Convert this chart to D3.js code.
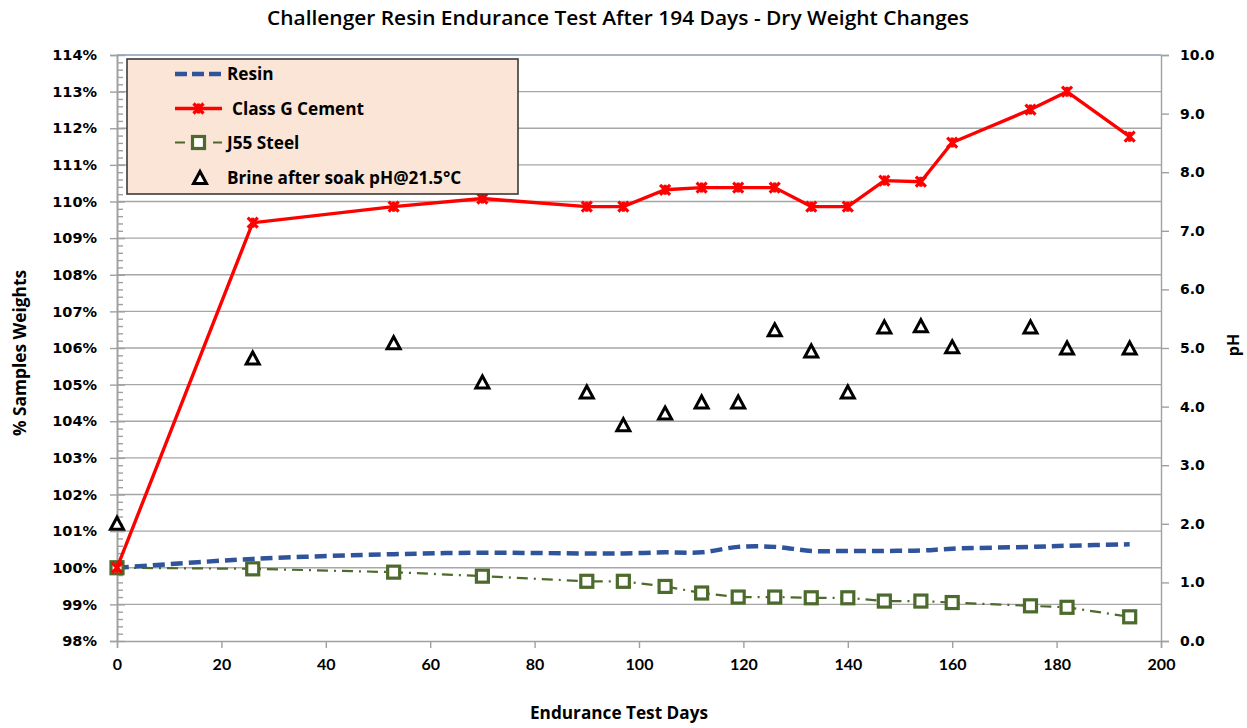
<!DOCTYPE html>
<html>
<head>
<meta charset="utf-8">
<script src="https://cdn.jsdelivr.net/npm/d3@7"></script>
<style>
  html,body{margin:0;padding:0;background:#fff;}
  svg{display:block;}
</style>
</head>
<body>
<svg id="chart" width="1247" height="728"></svg>
<script>
// ---------------- DATA ----------------
const days = [0,26,53,70,90,97,105,112,119,126,133,140,147,154,160,175,182,194];
const resin = [100.00,100.24,100.37,100.41,100.39,100.39,100.42,100.42,100.57,100.57,100.46,100.46,100.46,100.47,100.52,100.57,100.60,100.64];
const cement = [100.00,109.42,109.86,110.08,109.86,109.86,110.32,110.38,110.38,110.38,109.86,109.86,110.57,110.54,111.61,112.51,113.00,111.77];
const steel = [100.00,99.97,99.88,99.77,99.63,99.63,99.49,99.31,99.20,99.20,99.18,99.18,99.09,99.09,99.05,98.96,98.92,98.66];
const brinePH = [2.01,4.83,5.09,4.42,4.25,3.69,3.89,4.08,4.08,5.31,4.95,4.25,5.36,5.38,5.02,5.36,5.00,5.00];

const xTicks = [0,20,40,60,80,100,120,140,160,180,200];
const leftTicks = [98,99,100,101,102,103,104,105,106,107,108,109,110,111,112,113,114];
const rightTicks = [0,1,2,3,4,5,6,7,8,9,10];
const seriesNames = ["Resin","Class G Cement","J55 Steel","Brine after soak pH@21.5°C"];
const titleText = "Challenger Resin Endurance Test After 194 Days - Dry Weight Changes";
const xTitle = "Endurance Test Days";
const yLeftTitle = "% Samples Weights";
const yRightTitle = "pH";

// ---------------- LAYOUT ----------------
const svg = d3.select("#chart");
const plot = {left:117, right:1161, top:55, bottom:641};
const x = d3.scaleLinear().domain([0,200]).range([plot.left, plot.right]);
const yL = d3.scaleLinear().domain([98,114]).range([plot.bottom, plot.top]);
const yR = d3.scaleLinear().domain([0,10]).range([plot.bottom, plot.top]);

const colResin = "#2f549b", colCement = "#ff0000", colSteel = "#4b6a2b", gridCol = "#a6a6a6", axisCol = "#a0a0a0";
const tickFont = "'DejaVu Sans', Verdana, sans-serif";
const narrowFont = "'Liberation Sans Narrow', 'Lato', sans-serif";
const textFont = "'Open Sans', 'Noto Sans', sans-serif";

// gridlines
svg.append("g").selectAll("line").data(leftTicks.filter(d=>d>98)).join("line")
  .attr("x1", plot.left).attr("x2", plot.right)
  .attr("y1", d=>yL(d)).attr("y2", d=>yL(d))
  .attr("stroke", d=> d===114 ? "#8a9bb3" : gridCol).attr("stroke-width", 1.4);

// left axis (outer major ticks + labels)
const gL = svg.append("g").attr("transform",`translate(${plot.left},0)`)
  .call(d3.axisLeft(yL).tickValues(leftTicks).tickFormat(d=>d+"%").tickSize(7).tickPadding(13));
// inner major ticks
svg.append("g").attr("transform",`translate(${plot.left},0)`)
  .call(d3.axisRight(yL).tickValues(leftTicks).tickFormat("").tickSize(8).tickSizeOuter(0));
// minor ticks
svg.append("g").attr("class","minor").attr("transform",`translate(${plot.left},0)`)
  .call(d3.axisRight(yL).tickValues(d3.range(98,114,0.2).filter(v=>Math.abs(v-Math.round(v))>0.01)).tickFormat("").tickSize(6).tickSizeOuter(0));

// right axis
const gR = svg.append("g").attr("transform",`translate(${plot.right},0)`)
  .call(d3.axisRight(yR).tickValues(rightTicks).tickFormat(d3.format(".1f")).tickSize(8).tickPadding(11));

// x axis
const gX = svg.append("g").attr("transform",`translate(0,${plot.bottom})`)
  .call(d3.axisBottom(x).tickValues(xTicks).tickFormat(d3.format("d")).tickSize(7).tickPadding(11));

svg.selectAll(".domain, .tick line").attr("stroke", axisCol).attr("stroke-width", 1.4);
svg.selectAll(".tick text").attr("fill","#000").attr("font-weight","bold");
gL.selectAll(".tick text").attr("font-family", tickFont).attr("font-size", 14.5);
gR.selectAll(".tick text").attr("font-family", tickFont).attr("font-size", 14);
gX.selectAll(".tick text").attr("font-family", narrowFont).attr("font-size", 16);

// ---------------- SERIES ----------------
const pts = (vals)=> days.map((d,i)=>[d, vals[i]]);

// steel line (dash-dot)
svg.append("path").datum(pts(steel))
  .attr("d", d3.line().x(d=>x(d[0])).y(d=>yL(d[1])))
  .attr("fill","none").attr("stroke", colSteel).attr("stroke-width", 2.2)
  .attr("stroke-dasharray","11,6,2,6");
// resin smooth dashed
svg.append("path").datum(pts(resin))
  .attr("d", d3.line().curve(d3.curveCatmullRom.alpha(0.5)).x(d=>x(d[0])).y(d=>yL(d[1])))
  .attr("fill","none").attr("stroke", colResin).attr("stroke-width", 4.5)
  .attr("stroke-dasharray","12,6");
// steel markers
svg.append("g").selectAll("rect").data(pts(steel)).join("rect")
  .attr("x", d=>x(d[0])-6).attr("y", d=>yL(d[1])-6).attr("width",12).attr("height",12)
  .attr("fill","#fff").attr("stroke", colSteel).attr("stroke-width",3.2);
// cement line
svg.append("path").datum(pts(cement))
  .attr("d", d3.line().x(d=>x(d[0])).y(d=>yL(d[1])))
  .attr("fill","none").attr("stroke", colCement).attr("stroke-width", 3.4);
function starMarker(g, cx, cy, s, col){
  g.append("path").attr("d",`M${cx-s},${cy-s}L${cx+s},${cy+s}M${cx-s},${cy+s}L${cx+s},${cy-s}M${cx},${cy-s}L${cx},${cy+s}`)
   .attr("stroke", col).attr("stroke-width", 3.2).attr("fill","none");
}
const gC = svg.append("g");
pts(cement).forEach(d=> starMarker(gC, x(d[0]), yL(d[1]), 5, colCement));

// brine triangles
function triPath(cx, cy){
  const w = 6.5, h = 6;
  return `M${cx},${cy-h}L${cx+w},${cy+h}L${cx-w},${cy+h}Z`;
}
svg.append("g").selectAll("path").data(days.map((d,i)=>[d, brinePH[i]])).join("path")
  .attr("d", d=>triPath(x(d[0]), yR(d[1])))
  .attr("fill","#fff").attr("stroke","#000").attr("stroke-width",3).attr("stroke-linejoin","miter");

// ---------------- LEGEND ----------------
const lg = svg.append("g");
lg.append("rect").attr("x",127).attr("y",59).attr("width",391).attr("height",135)
  .attr("fill","#fbe5d6").attr("stroke","#3a3a3a").attr("stroke-width",1.6);
const rowsY = [74,108.5,142.5,177.5];
lg.append("line").attr("x1",175).attr("x2",222).attr("y1",rowsY[0]).attr("y2",rowsY[0])
  .attr("stroke",colResin).attr("stroke-width",4.5).attr("stroke-dasharray","12,5");
lg.append("line").attr("x1",175).attr("x2",222).attr("y1",rowsY[1]).attr("y2",rowsY[1])
  .attr("stroke",colCement).attr("stroke-width",3.4);
starMarker(lg, 198.5, rowsY[1], 5, colCement);
lg.append("line").attr("x1",175).attr("x2",222).attr("y1",rowsY[2]).attr("y2",rowsY[2])
  .attr("stroke",colSteel).attr("stroke-width",2.2).attr("stroke-dasharray","10,28,10");
lg.append("rect").attr("x",198.5-6).attr("y",rowsY[2]-6).attr("width",12).attr("height",12)
  .attr("fill","#fff").attr("stroke",colSteel).attr("stroke-width",3.2);
lg.append("path").attr("d", triPath(200, rowsY[3])).attr("fill","#fff").attr("stroke","#000").attr("stroke-width",3);

const legX = [227,232,227,227];
const legTexts = lg.selectAll("text.leg").data(seriesNames).join("text").attr("class","leg")
  .attr("x",(d,i)=>legX[i]).attr("y",(d,i)=>rowsY[i]).attr("dy","0.35em")
  .attr("font-family", textFont).attr("font-weight", 700).attr("font-size", 15).attr("fill","#000")
  .text(d=>d);
{
  const w = legTexts.filter((d,i)=>i===1).node().getComputedTextLength();
  legTexts.attr("font-size", 15*132/w);
}

// ---------------- TITLES ----------------
function fitText(sel, target){
  sel.attr("textLength", target).attr("lengthAdjust","spacingAndGlyphs");
}
const t = svg.append("text").attr("x",(266+970)/2).attr("y",18).attr("dy","0.35em")
  .attr("text-anchor","middle").attr("font-family", textFont).attr("font-weight",600)
  .attr("font-size",20).attr("fill","#000").text(titleText);
fitText(t, 702);

const xt = svg.append("text").attr("x",619).attr("y",713).attr("dy","0.35em")
  .attr("text-anchor","middle").attr("font-family", textFont).attr("font-weight",700)
  .attr("font-size",17).attr("fill","#000").text(xTitle);
fitText(xt, 178);

const ylt = svg.append("text").attr("transform","translate(20,353) rotate(-90)").attr("dy","0.35em")
  .attr("text-anchor","middle").attr("font-family", textFont).attr("font-weight",700)
  .attr("font-size",17).attr("fill","#000").text(yLeftTitle);
fitText(ylt, 166);

svg.append("text").attr("transform","translate(1233,345) rotate(-90)").attr("dy","0.35em")
  .attr("text-anchor","middle").attr("font-family", textFont).attr("font-weight",700)
  .attr("font-size",16).attr("fill","#000").text(yRightTitle);
</script>
</body>
</html>
